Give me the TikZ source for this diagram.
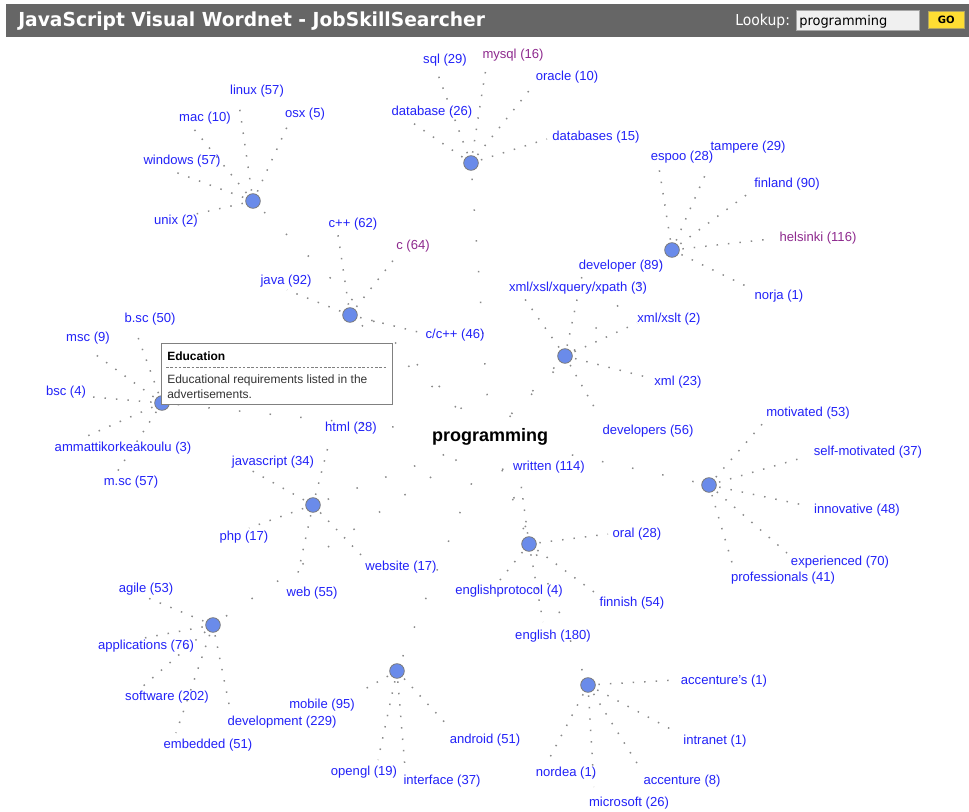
\documentclass[tikz,border=0pt]{standalone}
\usepackage{fontspec}
\usepackage{graphicx}
\setmainfont{Liberation Sans}
\newfontfamily\headfont{DejaVu Sans}

\definecolor{wordblue}{HTML}{2222F8}
\definecolor{wordpurple}{HTML}{8E2A8E}
\definecolor{hubfill}{HTML}{6A8BEA}
\definecolor{hubline}{HTML}{7A7A7A}
\definecolor{headbar}{HTML}{666666}
\definecolor{dotgray}{HTML}{8A8A8A}
\definecolor{fieldbg}{HTML}{F0F0F0}
\definecolor{gobtn}{HTML}{FFDD33}

\pgfdeclarelayer{paper}
\pgfdeclarelayer{links}
\pgfsetlayers{paper,links,main}

\tikzset{
  word/.style={text=wordblue, font=\fontsize{9.8}{11}\selectfont, inner sep=0pt},
  hotword/.style={word, text=wordpurple},
  hub/.style={circle, fill=hubfill, draw=hubline, line width=0.6pt,
              minimum size=11pt, inner sep=0pt},
  link/.style={draw=dotgray, line width=1.1pt, dash pattern=on 1.1pt off 7.5pt,
               shorten <=2pt},
  spoke/.style={draw=dotgray, line width=1.1pt, dash pattern=on 1.1pt off 22pt,
                shorten <=6pt, shorten >=10pt},
  tipbox/.style={draw=gray, fill=white, line width=0.6pt, inner sep=0pt},
  tiptext/.style={text=black!80, font=\fontsize{9}{10}\selectfont, inner sep=0pt, anchor=west},
}

% \skillterm{style}{name}{label position}{label}{dot end}{hub}
\newcommand{\skillterm}[6]{%
  \node[#1] (#2) at (#3) {#4};
  \coordinate (#2-end) at (#5);
  \begin{pgfonlayer}{links}\draw[link] (#6) -- (#2-end);\end{pgfonlayer}
}

\begin{document}
\begin{tikzpicture}[x=0.75pt,y=-0.75pt]
\useasboundingbox (0,0) rectangle (969,812);
\begin{pgfonlayer}{paper}
\fill[white] (0,0) rectangle (969,812);
\end{pgfonlayer}

% header bar
\fill[headbar] (6,4) rectangle (969,37);
\node[anchor=base west, text=white, inner sep=0pt] (title) at (18,27)
  {\resizebox{350pt}{11pt}{\headfont\bfseries JavaScript Visual Wordnet - JobSkillSearcher}};
\node[anchor=base west, text=white, inner sep=0pt] (lookup) at (735,26)
  {\resizebox{41pt}{8.6pt}{\headfont Lookup:}};
\node[draw=gray!70, fill=fieldbg, anchor=north west, minimum width=92pt,
      minimum height=15pt, inner sep=0pt] (field) at (796,10) {};
\node[anchor=base west, text=black, inner sep=0pt] (fieldtext) at (799,26)
  {\resizebox{66pt}{7.6pt}{\headfont programming}};
\node[draw=gray!60!gobtn, fill=gobtn, anchor=north west, minimum width=27pt,
      minimum height=12.5pt, inner sep=0pt] (go) at (928,11)
  {\resizebox{!}{5.6pt}{\headfont\bfseries GO}};

% centre word
\node[font=\bfseries\fontsize{13.5}{15}\selectfont, text=black, inner sep=1pt] (center) at (490,437) {programming};

% cluster hubs
\node[hub] (hos)   at (253,201) {};
\node[hub] (hdb)   at (471,163) {};
\node[hub] (hloc)  at (672,250) {};
\node[hub] (hc)    at (350,315) {};
\node[hub] (hxml)  at (565,356) {};
\node[hub] (hedu)  at (162,403) {};
\node[hub] (hsoft) at (709,485) {};
\node[hub] (hweb)  at (313,505) {};
\node[hub] (hlang) at (529,544) {};
\node[hub] (hdev)  at (213,625) {};
\node[hub] (hmob)  at (397,671) {};
\node[hub] (hco)   at (588,685) {};

% sparse spokes from the centre word out to each hub
\begin{pgfonlayer}{links}
\foreach \h in {hos,hdb,hloc,hc,hxml,hedu,hsoft,hweb,hlang,hdev,hmob,hco}
  \draw[spoke] (\h) -- (center);
\end{pgfonlayer}

% operating systems
\skillterm{word}{linux}{257,91}{linux (57)}{239,104}{hos}
\skillterm{word}{mac}{205,118}{mac (10)}{193,128}{hos}
\skillterm{word}{osx}{305,114}{osx (5)}{288,125}{hos}
\skillterm{word}{windows}{182,161}{windows (57)}{175,172}{hos}
\skillterm{word}{unix}{176,221}{unix (2)}{196,214}{hos}

% databases
\skillterm{word}{sql}{445,60}{sql (29)}{437,72}{hdb}
\skillterm{hotword}{mysql}{513,55}{mysql (16)}{486,68}{hdb}
\skillterm{word}{oracle}{567,77}{oracle (10)}{532,87}{hdb}
\skillterm{word}{database}{432,112}{database (26)}{410,121}{hdb}
\skillterm{word}{databases}{596,137}{databases (15)}{547,139}{hdb}

% locations
\skillterm{word}{espoo}{682,157}{espoo (28)}{659,168}{hloc}
\skillterm{word}{tampere}{748,147}{tampere (29)}{706,173}{hloc}
\skillterm{word}{finland}{787,184}{finland (90)}{749,193}{hloc}
\skillterm{hotword}{helsinki}{818,238}{helsinki (116)}{771,239}{hloc}
\skillterm{word}{norja}{779,296}{norja (1)}{750,288}{hloc}

% c family
\skillterm{word}{cpp}{353,224}{c++ (62)}{338,235}{hc}
\skillterm{hotword}{clang}{413,246}{c (64)}{399,253}{hc}
\skillterm{word}{java}{286,281}{java (92)}{287,290}{hc}
\skillterm{word}{ccpp}{455,335}{c/c++ (46)}{422,333}{hc}

% xml
\skillterm{word}{developer}{621,266}{developer (89)}{582,276}{hxml}
\skillterm{word}{xpath}{578,288}{xml/xsl/xquery/xpath (3)}{522,295}{hxml}
\skillterm{word}{xslt}{669,319}{xml/xslt (2)}{637,323}{hxml}
\skillterm{word}{xml}{678,382}{xml (23)}{650,378}{hxml}
\skillterm{word}{developers}{648,431}{developers (56)}{597,412}{hxml}

% education
\skillterm{word}{bsc2}{150,319}{b.sc (50)}{135,329}{hedu}
\skillterm{word}{msc}{88,338}{msc (9)}{92,352}{hedu}
\skillterm{word}{bsc}{66,392}{bsc (4)}{93,397}{hedu}
\skillterm{word}{amk}{123,448}{ammattikorkeakoulu (3)}{85,437}{hedu}
\skillterm{word}{msc2}{131,482}{m.sc (57)}{117,472}{hedu}

% personal qualities
\skillterm{word}{motivated}{808,413}{motivated (53)}{764,422}{hsoft}
\skillterm{word}{selfmot}{868,452}{self-motivated (37)}{805,457}{hsoft}
\skillterm{word}{innovative}{857,510}{innovative (48)}{808,506}{hsoft}
\skillterm{word}{experienced}{840,562}{experienced (70)}{787,553}{hsoft}
\skillterm{word}{professionals}{783,578}{professionals (41)}{733,566}{hsoft}

% web
\skillterm{word}{html}{351,428}{html (28)}{328,447}{hweb}
\skillterm{word}{javascript}{273,462}{javascript (34)}{247,468}{hweb}
\skillterm{word}{php}{244,537}{php (17)}{249,528}{hweb}
\skillterm{word}{web}{312,593}{web (55)}{296,582}{hweb}
\skillterm{word}{website}{401,567}{website (17)}{364,558}{hweb}

% languages
\skillterm{word}{written}{549,467}{written (114)}{520,477}{hlang}
\skillterm{word}{oral}{637,534}{oral (28)}{608,534}{hlang}
\skillterm{word}{englishprotocol}{509,591}{englishprotocol (4)}{500,580}{hlang}
\skillterm{word}{finnish}{632,603}{finnish (54)}{594,592}{hlang}
\skillterm{word}{english}{553,636}{english (180)}{543,622}{hlang}

% development
\skillterm{word}{agile}{146,589}{agile (53)}{148,598}{hdev}
\skillterm{word}{applications}{146,646}{applications (76)}{144,638}{hdev}
\skillterm{word}{software}{167,697}{software (202)}{141,688}{hdev}
\skillterm{word}{embedded}{208,745}{embedded (51)}{176,733}{hdev}
\skillterm{word}{development}{282,722}{development (229)}{230,709}{hdev}

% mobile
\skillterm{word}{mobile}{322,705}{mobile (95)}{358,693}{hmob}
\skillterm{word}{opengl}{364,772}{opengl (19)}{378,760}{hmob}
\skillterm{word}{interface}{442,781}{interface (37)}{405,768}{hmob}
\skillterm{word}{android}{485,740}{android (51)}{450,728}{hmob}

% companies
\skillterm{word}{accentures}{724,681}{accenture's (1)}{676,680}{hco}
\skillterm{word}{intranet}{715,741}{intranet (1)}{678,733}{hco}
\skillterm{word}{nordea}{566,773}{nordea (1)}{548,761}{hco}
\skillterm{word}{accenture}{682,781}{accenture (8)}{640,768}{hco}
\skillterm{word}{microsoft}{629,803}{microsoft (26)}{594,787}{hco}

% tooltip over the education hub
\node[tipbox, anchor=north west, minimum width=173pt, minimum height=45.75pt] (tip) at (161,343) {};
\node[tiptext, font=\bfseries\fontsize{9}{10}\selectfont, text=black] (tiphead) at (167,356) {Education};
\draw[gray, line width=0.5pt, dash pattern=on 2pt off 1.2pt] (166,367) -- (387,367);
\node[tiptext] (tipline1) at (167,380) {Educational requirements listed in the};
\node[tiptext] (tipline2) at (167,394) {advertisements.};
\end{tikzpicture}
\end{document}
